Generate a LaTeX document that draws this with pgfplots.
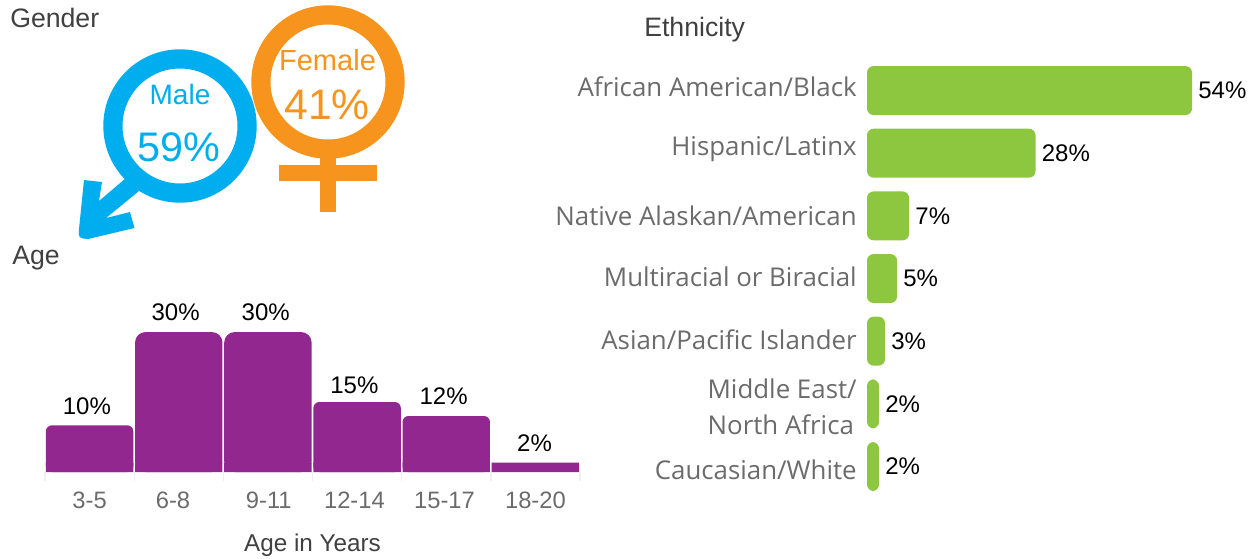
\documentclass[border=0pt]{standalone}
\usepackage{pgfplots}
\pgfplotsset{compat=1.18}
\usepackage{fontspec}
\setmainfont{Liberation Sans}
\newfontfamily\ethfont{Open Sans}
\definecolor{agepurple}{HTML}{92278F}
\definecolor{ethgreen}{HTML}{8DC63F}
\definecolor{maleblue}{HTML}{00AEEF}
\definecolor{femorange}{HTML}{F7941E}
\definecolor{titlegray}{HTML}{404040}
\definecolor{tickgray}{HTML}{6B6B6B}
\newcommand{\fs}[1]{\fontsize{#1}{#1}\selectfont}
\begin{document}
\begin{tikzpicture}
\useasboundingbox (0pt,0pt) rectangle (942pt,-418.5pt);
\begin{scope}[x=0.75pt,y=-0.75pt]
  % Titles
  \node[anchor=west,inner sep=0pt,text=titlegray,font=\fs{20pt}] at (10,18) {Gender};
  \node[anchor=west,inner sep=0pt,text=titlegray,font=\fs{20pt}] at (12,258) {Age};
  \node[anchor=west,inner sep=0pt,text=titlegray,font=\fs{20pt}] at (644,30) {Ethnicity};
  % Female symbol
  \fill[femorange] (320,150) rectangle (336,212);
  \fill[femorange] (279,165) rectangle (377,181);
  \draw[femorange,line width=14.4pt,fill=white] (328,82) circle (67.1);
  \node[text=femorange,inner sep=0pt,font=\fs{21.8pt}] at (327.5,60.5) {Female};
  \node[text=femorange,inner sep=0pt,font=\fs{32pt}] at (327,105) {41\%};
  % Male symbol
  \fill[maleblue] (84,180) -- (102,182) -- (99,201) -- (126,178) -- (139,191) -- (106,218) -- (130,212) -- (134.5,228) -- (88,239) [rounded corners=3pt] -- (78.5,238) -- (79,229) [sharp corners] -- cycle;
  \draw[maleblue,line width=14.4pt,fill=white] (180,126) circle (67.1);
  \node[text=maleblue,inner sep=0pt,font=\fs{21pt}] at (180,94.5) {Male};
  \node[text=maleblue,inner sep=0pt,font=\fs{31pt}] at (179,147) {59\%};
\end{scope}
% Age histogram
\begin{axis}[
  at={(33.75pt,-354pt)},anchor=south west,
  scale only axis,width=401.25pt,height=119pt,
  xmin=-0.5,xmax=5.5,ymin=0,ymax=34,
  axis x line=bottom,axis y line=none,
  axis line style={draw=none},
  ybar,bar shift=0pt,bar width=65.6pt,
  clip=false,
  xtick={0,0.936,2.01,2.97,3.98,5},
  xticklabels={3-5,6-8,9-11,12-14,15-17,18-20},
  major tick length=0pt,
  minor xtick={-0.5,0.5,1.5,2.5,3.5,4.5,5.5},
  minor tick length=7pt,
  minor x tick style={color=black!6,line width=1pt},
  xticklabel style={text=tickgray,font=\fs{17.8pt},inner sep=0pt,text height=13pt,text depth=0pt,yshift=-14.5pt},
  xlabel={Age in Years},
  xlabel style={text=titlegray,font=\fs{18.2pt},inner sep=0pt,yshift=-18.5pt},
]
\addplot[fill=agepurple,draw=none,rounded corners=8pt] coordinates {(1,30) (2,30)};
\addplot[fill=agepurple,draw=none,rounded corners=4.5pt] coordinates {(0,10) (3,15) (4,12)};
\addplot[fill=agepurple,draw=none] coordinates {(0,2) (1,2) (2,2) (3,2) (4,2) (5,2)};
\addplot[draw=none,fill=none,
  nodes near coords,point meta=explicit symbolic,
  every node near coord/.append style={text=black,font=\fs{18pt},inner sep=0pt,anchor=center,yshift=14.5pt}]
  table[x=x,y=y,meta=lab,row sep=\\] {
  x y lab\\
  -0.03 10 10\%\\
  0.965 30 30\%\\
  1.975 30 30\%\\
  2.97 14.5 15\%\\
  3.97 12 12\%\\
  4.99 2 2\%\\
};
\end{axis}
% Ethnicity bars
\begin{axis}[
  at={(650.25pt,-44.4pt)},anchor=north west,
  scale only axis,width=270.9pt,height=329pt,
  xmin=0,xmax=60,ymin=-0.5,ymax=6.5,y dir=reverse,
  axis x line=none,axis y line=left,
  axis line style={draw=none},
  xbar,bar shift=0pt,bar width=36.75pt,
  clip=false,
  major tick length=0pt,
  ytick={-0.056,0.93,2,2.976,3.98,5.05,6.06},
  yticklabels={African American/Black,Hispanic/Latinx,Native Alaskan/American,Multiracial or Biracial,Asian/Pacific Islander,{Middle East/\\North Africa},Caucasian/White},
  yticklabel style={text=tickgray,font=\ethfont\fontsize{19.4pt}{27pt}\selectfont,align=left,inner sep=0pt,xshift=-7.5pt},
  nodes near coords={\pgfmathprintnumber[assume math mode=true]{\pgfplotspointmeta}\%},
  every node near coord/.append style={text=black,font=\fs{18pt},inner sep=0pt,anchor=west,xshift=4.5pt},
]
\addplot[fill=ethgreen,draw=none,rounded corners=5pt] coordinates {(54,0) (28,1) (7,2) (5,3) (3,4) (2,5) (2,6)};
\end{axis}
\end{tikzpicture}
\end{document}
